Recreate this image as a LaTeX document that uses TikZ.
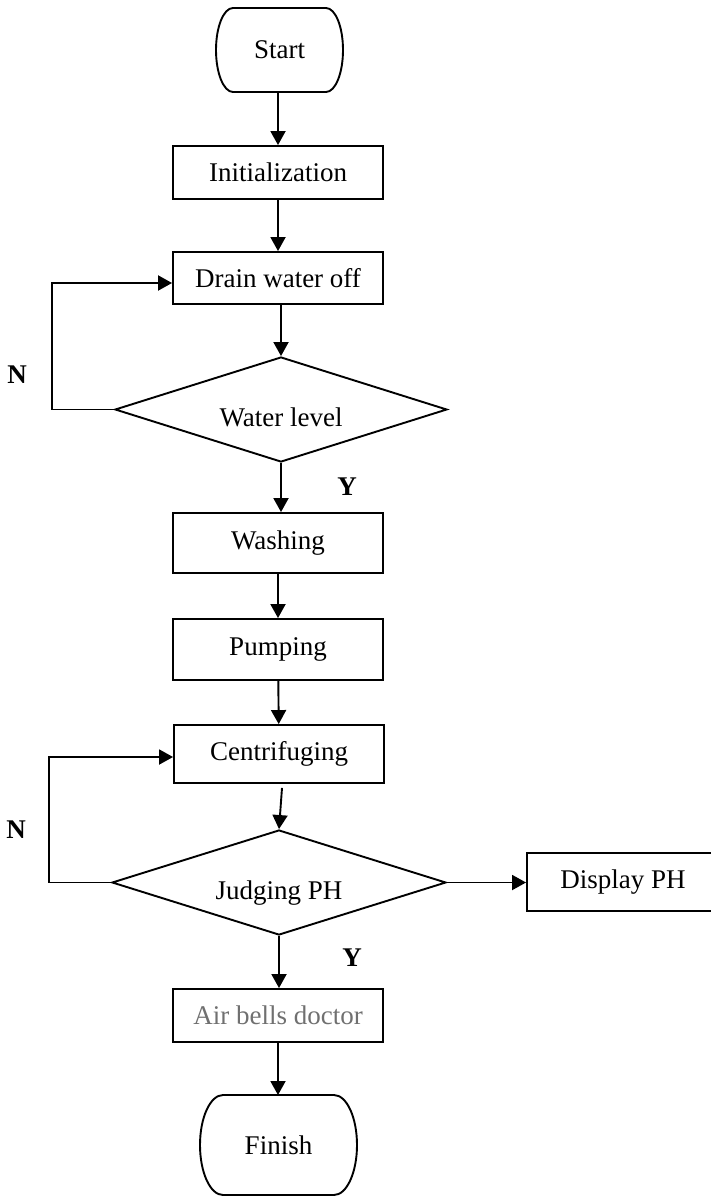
\documentclass[tikz,border=0pt]{standalone}
\usepackage{fontspec}
\setmainfont{Liberation Serif}
\usetikzlibrary{shapes.geometric,arrows.meta}
\definecolor{airgray}{RGB}{112,112,112}
\newcommand\termoutline[3]{%
  \draw[plain] ([xshift=#2]#1.north west) -- ([xshift=-#2]#1.north east)
    .. controls ([xshift=-0.448*#2]#1.north east) and ([yshift=0.552*#3]#1.east) .. (#1.east)
    .. controls ([yshift=-0.552*#3]#1.east) and ([xshift=-0.448*#2]#1.south east) .. ([xshift=-#2]#1.south east)
    -- ([xshift=#2]#1.south west)
    .. controls ([xshift=0.448*#2]#1.south west) and ([yshift=-0.552*#3]#1.west) .. (#1.west)
    .. controls ([yshift=0.552*#3]#1.west) and ([xshift=0.448*#2]#1.north west) .. cycle;}
\begin{document}
\begin{tikzpicture}[x=1pt,y=-1pt,
  every node/.style={font=\fontsize{27}{31}\selectfont},
  box/.style={draw, line width=1.9pt, rectangle, minimum width=210pt, inner sep=0pt},
  term/.style={rectangle, inner sep=0pt, outer sep=0pt},
  decision/.style={draw, line width=1.9pt, diamond, aspect=3.2, inner sep=0pt, text height=34pt, text depth=0pt},
  conn/.style={line width=1.9pt, -{Triangle[length=14pt,width=15pt]}},
  plain/.style={line width=1.9pt},
  lbl/.style={font=\fontsize{27}{31}\selectfont\bfseries}]
\useasboundingbox (0,0) rectangle (710,1198);

\node[term, minimum width=127pt, minimum height=84pt] (start) at (279.5,50) {Start};
\termoutline{start}{17pt}{42pt}
\node[box, minimum height=53pt] (init) at (278,172.5) {Initialization};
\node[box, minimum height=52pt] (drain) at (278,278) {Drain water off};
\node[decision, minimum width=332pt, minimum height=105pt] (wl) at (281,409.5) {Water level};
\node[box, minimum height=60pt] (wash) at (278,543) {Washing};
\node[box, minimum height=61pt] (pump) at (278,649.5) {Pumping};
\node[box, minimum height=58pt] (cent) at (279,754) {Centrifuging};
\node[decision, minimum width=334pt, minimum height=105pt] (jd) at (279,882.5) {Judging PH};
\node[box, minimum width=192pt, minimum height=58pt] (disp) at (623,882) {Display PH};
\node[box, minimum height=53pt, text=airgray] (air) at (278,1015.5) {Air bells doctor};
\node[term, minimum width=157pt, minimum height=100pt] (finish) at (278.5,1145) {Finish};
\termoutline{finish}{23pt}{50pt}

\node[lbl] (n1) at (17,375) {N};
\node[lbl] (y1) at (347,487) {Y};
\node[lbl] (n2) at (16,830) {N};
\node[lbl] (y2) at (352,958) {Y};

\coordinate (f1a) at (52,409.5);
\coordinate (f1b) at (52,283);
\coordinate (f2a) at (49,882.5);
\coordinate (f2b) at (49,757);

\draw[conn] (start.south -| init.north) -- (init.north);
\draw[conn] (init) -- (drain);
\draw[conn] (drain.south -| wl.north) -- (wl.north);
\draw[conn] (wl.west) -- (f1a) -- (f1b) -- (f1b -| drain.west);
\draw[conn] (wl.south) -- (wl.south |- wash.north);
\draw[conn] (wash) -- (pump);
\draw[conn] (pump) -- (cent);
\draw[conn] ([xshift=3pt,yshift=-4pt]cent.south) -- (jd.north);
\draw[conn] (jd.west) -- (f2a) -- (f2b) -- (f2b -| cent.west);
\draw[conn] (jd.east) -- (jd.east -| disp.west);
\draw[conn] (jd.south) -- (jd.south |- air.north);
\draw[conn] (air.south) -- (air.south |- finish.north);
\end{tikzpicture}
\end{document}
